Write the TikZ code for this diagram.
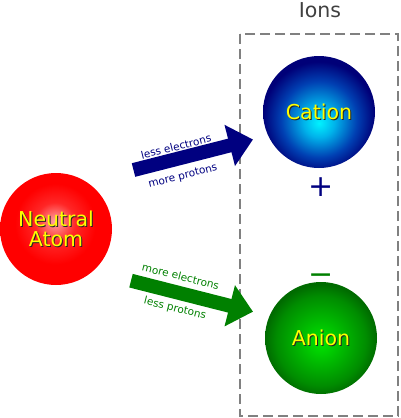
\documentclass[tikz,border=0pt]{standalone}
\usepackage{fontspec}
\setmainfont{DejaVu Sans}
\usetikzlibrary{arrows.meta}
\definecolor{navy}{RGB}{0,0,128}
\definecolor{leafgreen}{RGB}{0,128,0}
\definecolor{balltext}{RGB}{255,255,0}
\pgfdeclareradialshading{neutralball}{\pgfpoint{-0.5bp}{3.5bp}}{color(0bp)=(red!35!white); color(9bp)=(red!85!white); color(18bp)=(red); color(25bp)=(red); color(50bp)=(red)}
\pgfdeclareradialshading{cationball}{\pgfpoint{0bp}{-5bp}}{rgb(0bp)=(0,0.95,1); rgb(7bp)=(0,0.7,0.92); rgb(17bp)=(0,0.25,0.7); rgb(25bp)=(0,0,0.47); rgb(50bp)=(0,0,0.47)}
\pgfdeclareradialshading{anionball}{\pgfpoint{0bp}{-2bp}}{rgb(0bp)=(0,0.9,0); rgb(10bp)=(0,0.72,0); rgb(20bp)=(0,0.55,0); rgb(25bp)=(0,0.42,0); rgb(50bp)=(0,0.42,0)}
\newcommand{\shadowword}[1]{\rlap{\kern1pt\raisebox{-1pt}{\color{black!85}#1}}#1}
\begin{document}
\begin{tikzpicture}[x=1pt,y=-1pt,
  ball/.style={circle,minimum size=112pt,inner sep=0pt,text=balltext,
    font=\fontsize{20.5}{20}\selectfont,align=center},
  charge/.style={inner sep=0pt,anchor=base,font=\fontsize{30}{30}\selectfont},
  blockarrow/.style={line width=14pt,-{Triangle[width=41pt,length=24pt]}},
  arrowlabel/.style={inner sep=0pt,font=\fontsize{10.5}{12}\selectfont}]
\useasboundingbox (0,0) rectangle (400,418);
\draw[gray,line width=1.4pt,dash pattern=on 10pt off 5pt] (240,34) rectangle (398,416);
\node[text=black!75,font=\fontsize{20.5}{24}\selectfont] (ions) at (320,10) {Ions};
\node[ball,shading=neutralball] (neutral) at (56,229) {\shadowword{Neutral}\\\shadowword{Atom}};
\node[ball,shading=cationball] (cation) at (319,112) {\shadowword{Cation}};
\node[ball,shading=anionball] (anion) at (321,338) {\shadowword{Anion}};
\node[charge,text=navy] (plus) at (321,196.5) {+};
\node[charge,text=leafgreen] (minus) at (321,284.5) {−};
% block arrows
\coordinate (losstail) at (133.5,170);
\coordinate (losstip) at (253,139.5);
\coordinate (gaintail) at (131,280.7);
\coordinate (gaintip) at (253,311.7);
\draw[blockarrow,navy] (losstail) -- (losstip);
\draw[blockarrow,leafgreen] (gaintail) -- (gaintip);
\node[arrowlabel,text=navy,rotate=14] (lesse) at (176,146.5) {less electrons};
\node[arrowlabel,text=navy,rotate=14] (morep) at (183,176.5) {more protons};
\node[arrowlabel,text=leafgreen,rotate=-14] (moree) at (180.7,276.3) {more electrons};
\node[arrowlabel,text=leafgreen,rotate=-14] (lessp) at (175,308.7) {less protons};
\end{tikzpicture}
\end{document}
